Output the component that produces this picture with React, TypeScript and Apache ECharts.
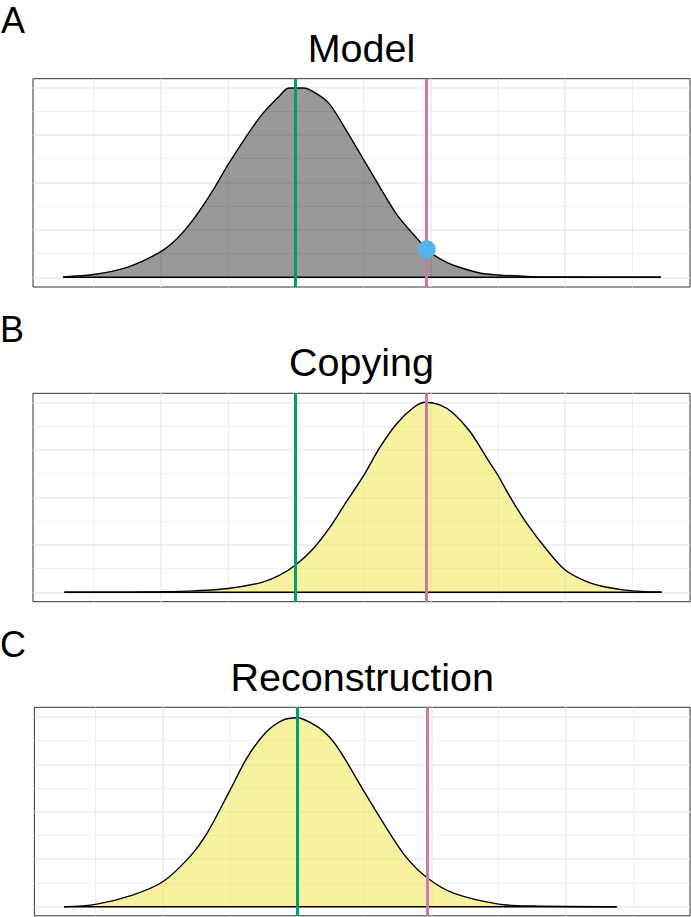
import React, { useEffect, useRef } from "react";
import * as echarts from "echarts";

// ---- data ----
const panelTitles = ["Model", "Copying", "Reconstruction"];
const panelLetters = ["A", "B", "C"];

const modelX = [-0.45, 0, 0.5, 1, 1.25, 1.5, 1.75, 2, 2.25, 2.5, 2.75, 2.9, 3.12, 3.3, 3.5, 3.75, 4, 4.25, 4.5, 4.75, 5, 5.25, 5.5, 5.75, 6, 6.5, 7, 8.42];
const modelY = [0.02, 0.12, 0.42, 1.08, 1.65, 2.5, 3.55, 4.75, 5.85, 6.85, 7.6, 7.97, 7.97, 7.75, 7.3, 6.2, 5.0, 3.8, 2.65, 1.8, 1.05, 0.62, 0.36, 0.17, 0.1, 0.03, 0.01, 0];

const copyingX = [-0.43, 0.5, 1, 1.5, 2, 2.5, 2.75, 3, 3.25, 3.5, 3.75, 4, 4.25, 4.5, 4.75, 4.93, 5.14, 5.34, 5.59, 5.84, 6, 6.18, 6.43, 6.73, 7, 7.32, 7.62, 8, 8.43];
const copyingY = [0, 0.005, 0.02, 0.06, 0.16, 0.42, 0.7, 1.15, 1.8, 2.7, 3.8, 4.87, 6.1, 7.1, 7.78, 8.0, 7.89, 7.54, 6.76, 5.64, 4.94, 4.03, 2.9, 1.78, 0.94, 0.45, 0.21, 0.06, 0.01];

const reconX = [-0.47, 0, 0.55, 1, 1.4, 1.66, 2, 2.25, 2.52, 2.78, 3.0, 3.2, 3.43, 3.63, 4, 4.29, 4.62, 4.95, 5.34, 6, 6.5, 7.76];
const reconY = [0, 0.1, 0.49, 1.05, 2.1, 3.1, 4.9, 6.25, 7.3, 7.85, 7.96, 7.75, 7.3, 6.6, 4.84, 3.5, 2.1, 1.19, 0.56, 0.11, 0.03, 0];

const greenLineX = 3.0;
const pinkLineX = 4.94;
const observedPoint = [4.946, 1.18];

const gridBreaksX = [0, 1, 2, 3, 4, 5, 6, 7, 8];
const gridBreaksY = [0, 1, 2, 3, 4, 5, 6, 7, 8];
const majorX = [1, 3, 5, 7];
const majorY = [0, 2, 4, 6, 8];

const curvesX = [modelX, copyingX, reconX];
const curvesY = [modelY, copyingY, reconY];

// ---- layout / style ----
const FONT = "'Liberation Sans', Arial, sans-serif";
const GREEN = "#009E73";
const PINK = "#CC79A7";
const BLUE = "#56B4E9";
const fills = ["rgba(0,0,0,0.4)", "rgba(240,228,66,0.5)", "rgba(240,228,66,0.5)"];

const panels = [
  { left: 33, top: 78.7, height: 208.3, xMin: -0.896, xMax: 8.852, yMin: -0.408, yMax: 8.36, titleY: 47.5, letterY: 20.5 },
  { left: 33, top: 393.3, height: 208.4, xMin: -0.896, xMax: 8.852, yMin: -0.396, yMax: 8.38, titleY: 362, letterY: 329.7 },
  { left: 34.4, top: 707.3, height: 208.5, xMin: -0.911, xMax: 8.85, yMin: -0.383, yMax: 8.4, titleY: 677, letterY: 644.5 },
];

export default function App() {
  const ref = useRef<HTMLDivElement>(null);

  useEffect(() => {
    document.body.style.margin = "0";
    if (!ref.current) return;
    const chart = echarts.init(ref.current, undefined, { renderer: "svg" });

    const grids: any[] = [];
    const xAxes: any[] = [];
    const yAxes: any[] = [];
    const series: any[] = [];
    const graphics: any[] = [];

    panels.forEach((p, i) => {
      grids.push({
        left: p.left,
        right: 1,
        top: p.top,
        height: p.height,
        show: true,
        borderColor: "#333333",
        borderWidth: 1,
        backgroundColor: "#ffffff",
        containLabel: false,
      });
      const hidden = {
        axisLine: { show: false },
        axisTick: { show: false },
        axisLabel: { show: false },
        splitLine: { show: false },
      };
      xAxes.push({ type: "value", gridIndex: i, min: p.xMin, max: p.xMax, ...hidden });
      yAxes.push({ type: "value", gridIndex: i, min: p.yMin, max: p.yMax, ...hidden });

      const gridLines: any[] = [];
      gridBreaksX.forEach((v) =>
        gridLines.push({ xAxis: v, lineStyle: { color: "#EBEBEB", width: majorX.includes(v) ? 1.5 : 0.8, type: "solid" } })
      );
      gridBreaksY.forEach((v) =>
        gridLines.push({ yAxis: v, lineStyle: { color: "#EBEBEB", width: majorY.includes(v) ? 1.5 : 0.8, type: "solid" } })
      );

      series.push({
        type: "line",
        xAxisIndex: i,
        yAxisIndex: i,
        data: [],
        z: 1,
        silent: true,
        markLine: {
          z: 1,
          silent: true,
          symbol: ["none", "none"],
          label: { show: false },
          emphasis: { disabled: true },
          data: gridLines,
        },
      });

      const xs = curvesX[i];
      const ys = curvesY[i];
      series.push({
        type: "line",
        xAxisIndex: i,
        yAxisIndex: i,
        data: xs.map((x, j) => [x, ys[j]]),
        smooth: 0.3,
        showSymbol: false,
        symbol: "none",
        z: 3,
        lineStyle: { color: "#000000", width: 1.4 },
        areaStyle: { color: fills[i], opacity: 1, origin: "auto" },
        silent: true,
      });
      series.push({
        type: "line",
        xAxisIndex: i,
        yAxisIndex: i,
        data: [
          [xs[0], 0],
          [xs[xs.length - 1], 0],
        ],
        showSymbol: false,
        symbol: "none",
        z: 3,
        lineStyle: { color: "#000000", width: 1.5 },
        silent: true,
      });
      series.push({
        type: "line",
        xAxisIndex: i,
        yAxisIndex: i,
        data: [],
        z: 6,
        silent: true,
        markLine: {
          z: 6,
          silent: true,
          symbol: ["none", "none"],
          label: { show: false },
          emphasis: { disabled: true },
          data: [
            { xAxis: greenLineX, lineStyle: { color: GREEN, width: 3, type: "solid" } },
            { xAxis: pinkLineX, lineStyle: { color: PINK, width: 3, type: "solid" } },
          ],
        },
      });
      if (i === 0) {
        series.push({
          type: "scatter",
          xAxisIndex: i,
          yAxisIndex: i,
          data: [observedPoint],
          symbol: "circle",
          symbolSize: 18,
          itemStyle: { color: BLUE, opacity: 1 },
          z: 10,
          silent: true,
        });
      }

      graphics.push({
        type: "text",
        x: (p.left + 690) / 2,
        y: p.titleY,
        style: {
          text: panelTitles[i],
          fontSize: 39.5,
          fontFamily: FONT,
          fill: "#000000",
          align: "center",
          verticalAlign: "middle",
        },
      });
      graphics.push({
        type: "text",
        x: i === 0 ? 1 : 0,
        y: p.letterY,
        style: {
          text: panelLetters[i],
          fontSize: 36,
          fontFamily: FONT,
          fill: "#000000",
          align: "left",
          verticalAlign: "middle",
        },
      });
    });

    chart.setOption({
      animation: false,
      backgroundColor: "#ffffff",
      grid: grids,
      xAxis: xAxes,
      yAxis: yAxes,
      series,
      graphic: graphics,
      tooltip: { show: false },
    });

    return () => chart.dispose();
  }, []);

  return <div ref={ref} style={{ width: 691, height: 917 }} />;
}
